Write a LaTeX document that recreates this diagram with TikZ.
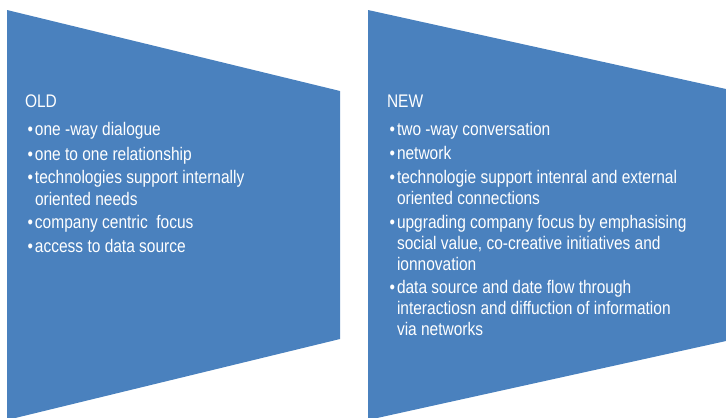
\documentclass[tikz,border=0pt]{standalone}
\usepackage{fontspec}
\setmainfont{Liberation Sans}[FakeStretch=0.85]
\definecolor{panel}{HTML}{4A81BE}
\newcommand{\bul}{\llap{\textbullet\hspace{2bp}}}
\begin{document}
\begin{tikzpicture}[x=1bp,y=-1bp,
  txt/.style={anchor=base west, inner sep=0pt, outer sep=0pt, text=white, font=\fontsize{18.3}{22}\selectfont},
  head/.style={txt}]
\useasboundingbox (0,0) rectangle (726,417);
\clip (0,0) rectangle (726,417);
\fill[panel] (7,10) -- (340,91) -- (340,339) -- (7,420) -- cycle;
\fill[panel] (368,10) -- (726,89) -- (726,341) -- (368,420) -- cycle;
% OLD
\node[head] (old) at (25,107) {OLD};
\node[txt] (o1) at (35,135) {\bul one -way dialogue};
\node[txt] (o2) at (35,160) {\bul one to one relationship};
\node[txt] (o3) at (35,183) {\bul technologies support internally};
\node[txt] (o3b) at (35,205) {oriented needs};
\node[txt] (o4) at (35,228) {\bul company centric\ \ focus};
\node[txt] (o5) at (35,252) {\bul access to data source};
% NEW
\node[head] (new) at (387,107) {NEW};
\node[txt] (n1) at (397,135) {\bul two -way conversation};
\node[txt] (n2) at (397,159) {\bul network};
\node[txt] (n3) at (397,183) {\bul technologie support intenral and external};
\node[txt] (n3b) at (397,204) {oriented connections};
\node[txt] (n4) at (397,228) {\bul upgrading company focus by emphasising};
\node[txt] (n4b) at (397,249) {social value, co-creative initiatives and};
\node[txt] (n4c) at (397,270) {ionnovation};
\node[txt] (n5) at (397,293) {\bul data source and date flow through};
\node[txt] (n5b) at (397,314) {interactiosn and diffuction of information};
\node[txt] (n5c) at (397,335) {via networks};
\end{tikzpicture}
\end{document}
